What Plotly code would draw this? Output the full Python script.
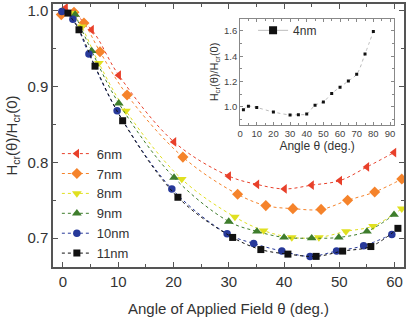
import plotly.graph_objects as go

# ---- main chart data ----
labels = ["6nm", "7nm", "8nm", "9nm", "10nm", "11nm"]
x_6nm = [0.5, 5.2, 10.1, 20.1, 30.0, 35.1, 40.1, 45.0, 50.1, 55.0, 59.9]
y_6nm = [1.004, 0.975, 0.915, 0.827, 0.782, 0.771, 0.765, 0.770, 0.776, 0.794, 0.813]
x_7nm = [-0.3, 2.0, 3.8, 6.7, 11.6, 21.7, 31.6, 36.7, 41.6, 46.7, 51.5, 56.4, 61.3]
y_7nm = [0.995, 0.998, 0.984, 0.946, 0.889, 0.807, 0.758, 0.743, 0.739, 0.738, 0.750, 0.761, 0.778]
x_8nm = [1.8, 3.4, 6.5, 11.4, 21.5, 31.1, 36.3, 41.4, 46.3, 51.2, 56.1, 61.3]
y_8nm = [0.997, 0.979, 0.931, 0.868, 0.778, 0.728, 0.710, 0.701, 0.701, 0.709, 0.716, 0.739]
x_9nm = [2.2, 5.2, 10.1, 20.1, 30.0, 35.1, 40.0, 45.0, 49.9, 55.0, 59.9]
y_9nm = [0.995, 0.947, 0.878, 0.780, 0.722, 0.709, 0.701, 0.700, 0.701, 0.709, 0.731]
x_10nm = [-0.2, 1.8, 4.7, 9.8, 19.7, 29.7, 34.5, 39.6, 44.7, 49.5, 54.4, 59.5]
y_10nm = [0.999, 0.989, 0.943, 0.868, 0.765, 0.706, 0.693, 0.683, 0.676, 0.683, 0.690, 0.705]
x_11nm = [0.9, 2.9, 5.8, 10.8, 20.8, 30.7, 35.8, 40.7, 45.8, 50.6, 55.7, 60.6]
y_11nm = [0.997, 0.975, 0.927, 0.855, 0.754, 0.701, 0.685, 0.679, 0.676, 0.683, 0.689, 0.713]

# ---- inset data ----
inset_label = "4nm"
x_4nm = [2, 5, 10, 20, 30, 35, 40, 45, 50, 55, 60, 65, 70, 75, 80]
y_4nm = [0.975, 1.003, 0.993, 0.958, 0.935, 0.937, 0.942, 1.012, 1.038, 1.105, 1.155, 1.204, 1.257, 1.418, 1.596]

xs = [x_6nm, x_7nm, x_8nm, x_9nm, x_10nm, x_11nm]
ys = [y_6nm, y_7nm, y_8nm, y_9nm, y_10nm, y_11nm]
colors = ["#e8402a", "#f5832b", "#e0e020", "#3e7d2c", "#27399a", "#111111"]
symbols = ["triangle-left", "diamond", "triangle-down", "triangle-up", "circle", "square"]
sizes = [8.5, 8.5, 8.5, 8.5, 7.5, 7]

FONT = "Arial, Liberation Sans, sans-serif"

fig = go.Figure()
for lab, x, y, c, s, sz in zip(labels, xs, ys, colors, symbols, sizes):
    fig.add_trace(go.Scatter(
        x=x, y=y, name=lab, mode="lines+markers",
        line=dict(color=c, width=1, dash="dot", shape="spline", smoothing=1.0),
        marker=dict(color=c, symbol=s, size=sz, line=dict(width=0)),
        legend="legend",
    ))

# inset trace
fig.add_trace(go.Scatter(
    x=x_4nm, y=y_4nm, mode="lines+markers", showlegend=False,
    line=dict(color="#aaaaaa", width=0.8, dash="dot", shape="spline"),
    marker=dict(color="#111111", symbol="square", size=3),
    xaxis="x2", yaxis="y2",
))
# legend entry for inset (larger symbol, no data)
fig.add_trace(go.Scatter(
    x=[None], y=[None], name=inset_label, mode="lines+markers",
    line=dict(color="#aaaaaa", width=0.8),
    marker=dict(color="#111111", symbol="square", size=8),
    xaxis="x2", yaxis="y2", legend="legend2",
))

axis_common = dict(
    showline=True, linecolor="#555555", linewidth=1.5, mirror="allticks",
    ticks="inside", tickcolor="#555555", showgrid=False, zeroline=False,
    automargin=False,
)

fig.update_layout(
    width=413, height=317,
    margin=dict(l=53, r=9, t=4, b=50),
    paper_bgcolor="white", plot_bgcolor="white",
    font=dict(family=FONT, color="#333333", size=15),
    xaxis=dict(
        **axis_common, range=[-1.8, 61.7], tickvals=[0, 10, 20, 30, 40, 50, 60],
        ticklen=5, tickwidth=1.2,
        minor=dict(dtick=5, tick0=0, ticks="inside", ticklen=3, tickcolor="#555555"),
        tickfont=dict(size=15, color="#333333"),
        title=dict(text="Angle of Applied Field θ (deg.)", font=dict(size=15, color="#333333"), standoff=20),
    ),
    yaxis=dict(
        **axis_common, range=[0.662, 1.009], tickvals=[0.7, 0.8, 0.9, 1.0], ticktext=["0.7", "0.8", "0.9", "1.0"],
        ticklen=5, tickwidth=1.2,
        minor=dict(dtick=0.05, tick0=0.7, ticks="inside", ticklen=3, tickcolor="#555555"),
        tickfont=dict(size=15, color="#333333"),
        title=dict(text="H<sub>cr</sub>(θ)/H<sub>cr</sub>(0)", font=dict(size=15, color="#333333"), standoff=6),
    ),
    xaxis2=dict(
        showline=True, linecolor="#888888", linewidth=1, mirror="allticks", automargin=False,
        ticks="inside", tickcolor="#888888", ticklen=3, showgrid=False, zeroline=False,
        domain=[0.533, 0.972], anchor="y2", range=[0, 92.5],
        tickvals=[0, 10, 20, 30, 40, 50, 60, 70, 80, 90],
        minor=dict(dtick=5, ticks="inside", ticklen=2, tickcolor="#888888"),
        tickfont=dict(size=9.5, color="#444444"),
        title=dict(text="Angle θ (deg.)", font=dict(size=12, color="#333333"), standoff=3),
    ),
    yaxis2=dict(
        showline=True, linecolor="#888888", linewidth=1, mirror="allticks", automargin=False,
        ticks="inside", tickcolor="#888888", ticklen=3, showgrid=False, zeroline=False,
        domain=[0.54, 0.943], anchor="x2", range=[0.855, 1.695],
        tickvals=[1.0, 1.2, 1.4, 1.6], ticktext=["1.0", "1.2", "1.4", "1.6"],
        minor=dict(dtick=0.1, tick0=1.0, ticks="inside", ticklen=2, tickcolor="#888888"),
        tickfont=dict(size=9.5, color="#444444"),
        title=dict(text="H<sub>cr</sub>(θ)/H<sub>cr</sub>(0)", font=dict(size=11, color="#333333"), standoff=3),
    ),
    legend=dict(
        x=0.011, y=0.488, xanchor="left", yanchor="top",
        bgcolor="rgba(0,0,0,0)", font=dict(size=13, color="#333333"),
        tracegroupgap=0, itemwidth=30,
    ),
    legend2=dict(
        x=0.57, y=0.955, xanchor="left", yanchor="top",
        bgcolor="rgba(0,0,0,0)", font=dict(size=12, color="#333333"),
        itemwidth=30,
    ),
)

fig.write_html("out.html")
